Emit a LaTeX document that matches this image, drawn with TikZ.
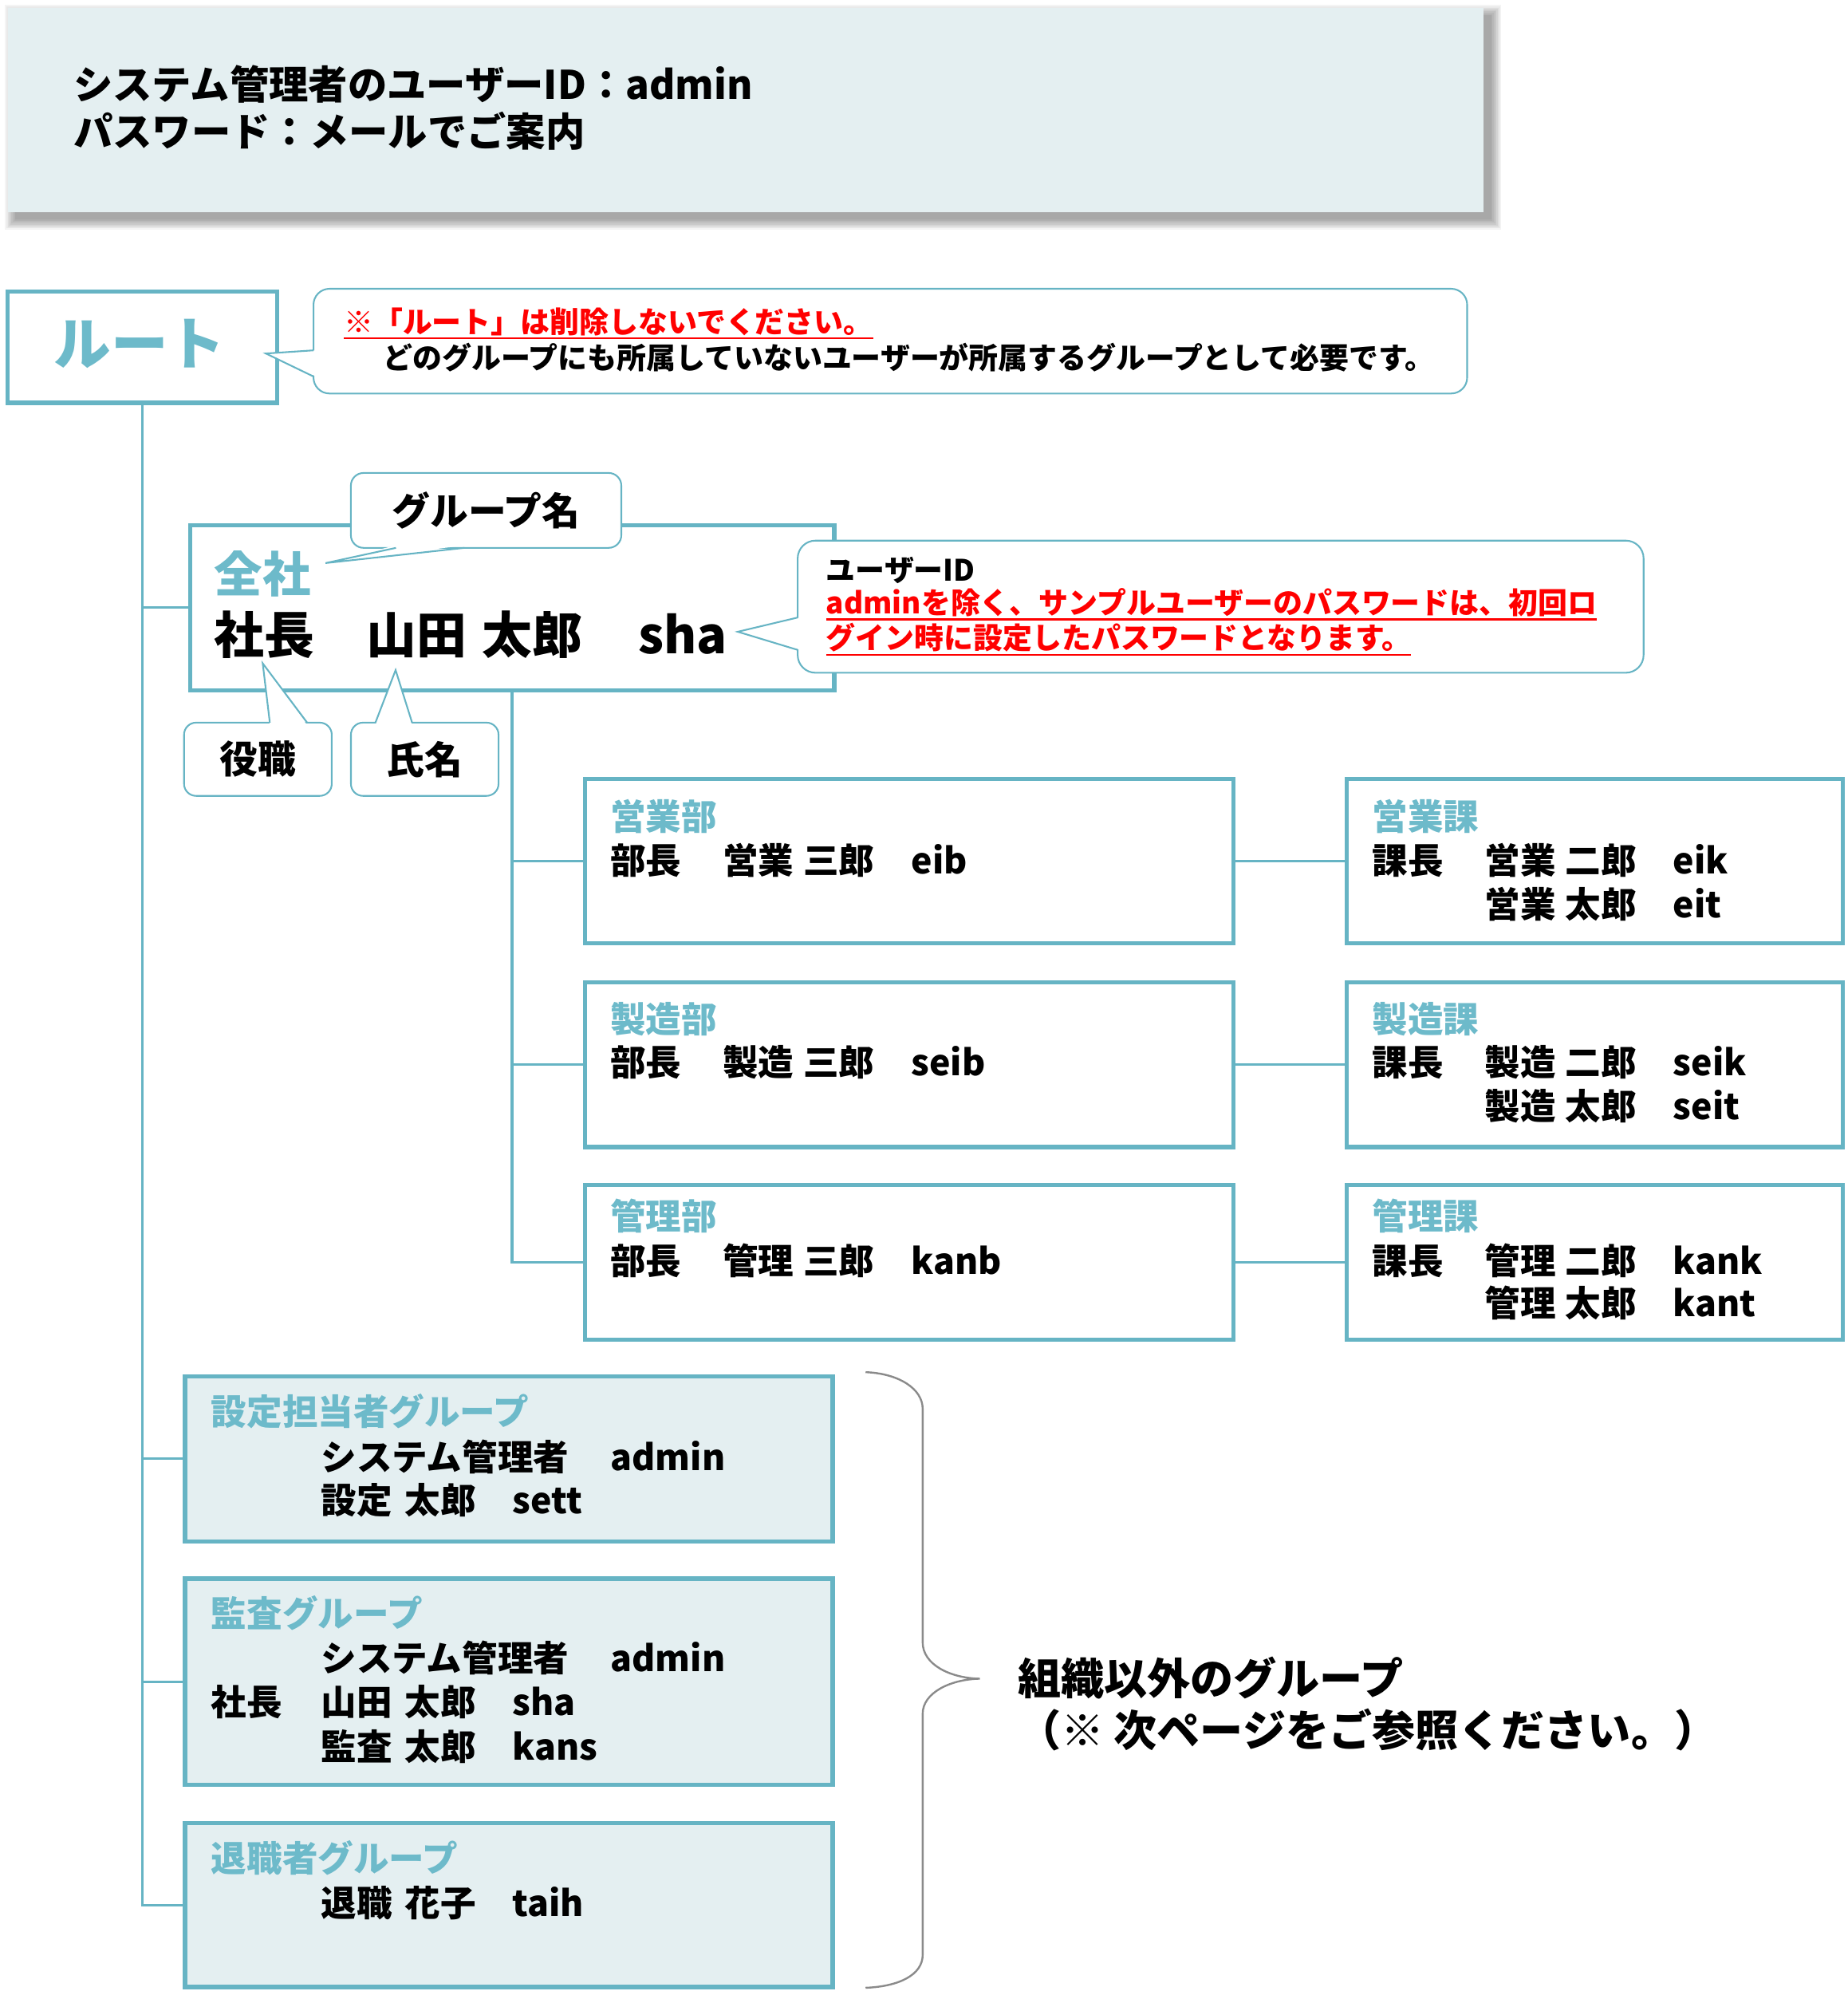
\documentclass[tikz,border=0pt]{standalone}
\usepackage{fontspec}
\setmainfont{Noto Sans CJK JP}
\definecolor{teal1}{HTML}{66B4C4}
\definecolor{tealtxt}{HTML}{6DBACA}
\definecolor{paleblue}{HTML}{E4EFF1}
\definecolor{bracegray}{HTML}{8A8A8A}
\definecolor{alert}{HTML}{FF0000}
\tikzset{
  orgbox/.style={draw=teal1, line width=3.35pt, fill=white, inner sep=0pt, outer sep=0pt},
  grpbox/.style={orgbox, fill=paleblue},
  callbox/.style={draw=teal1, line width=1.3pt, fill=white, rounded corners=#1, inner sep=0pt, outer sep=0pt},
  callbox/.default=10pt,
  conn/.style={draw=teal1, line width=2pt},
  ptrline/.style={draw=teal1, line width=1.3pt, line join=miter},
  fs/.style={font=\bfseries\fontsize{#1}{#1}\selectfont},
  tx/.style={inner sep=0pt, outer sep=0pt, anchor=base west, fs=28},
  ttl/.style={tx, text=tealtxt},
  uline/.style={draw=alert, line width=1.5pt},
}
\begin{document}
\begin{tikzpicture}[x=1pt,y=-1pt]
\useasboundingbox (0,0) rectangle (1456,1571.7);
\fill[white] (0,0) rectangle (1456,1571.7);

% header with soft shadow
\foreach \e in {0,1,...,8}{
  \fill[black,opacity=0.045] (12-\e,12-\e) rectangle (1175+\e,173+\e);
}
\node[fill=paleblue, inner sep=0pt, outer sep=0pt, minimum width=1163pt, minimum height=161pt] (header) at (587.5,86.5) {};
\node[tx, fs=31] (h1) at (58,78) {システム管理者のユーザーID：admin};
\node[tx, fs=31] (h2) at (58,115) {パスワード：メールでご案内};

% root
\node[orgbox, minimum width=212.4pt, minimum height=87.6pt] (root) at (112.1,273.5) {};
\node[inner sep=0pt, fs=45, text=tealtxt] (roottxt) at (110,271) {ルート};

% organisation boxes
\node[orgbox, minimum width=507.6pt, minimum height=130.1pt] (zensha) at (403.5,478.75) {};
\node[orgbox, minimum width=510.9pt, minimum height=129.6pt] (eigyobu) at (716.35,678.5) {};
\node[orgbox, minimum width=510.9pt, minimum height=130pt] (seizobu) at (716.35,838.7) {};
\node[orgbox, minimum width=510.9pt, minimum height=121.9pt] (kanribu) at (716.35,994.35) {};
\node[orgbox, minimum width=390.6pt, minimum height=129.6pt] (eigyoka) at (1256.5,678.5) {};
\node[orgbox, minimum width=390.6pt, minimum height=130pt] (seizoka) at (1256.5,838.7) {};
\node[orgbox, minimum width=390.6pt, minimum height=121.9pt] (kanrika) at (1256.5,994.35) {};
\node[grpbox, minimum width=510.4pt, minimum height=130pt] (settei) at (400.9,1149.3) {};
\node[grpbox, minimum width=510.4pt, minimum height=162.6pt] (kansa) at (400.9,1325) {};
\node[grpbox, minimum width=510.4pt, minimum height=129.1pt] (taishoku) at (400.9,1500.75) {};

% connectors
\draw[conn] (root.south) |- (zensha.west);
\draw[conn] (root.south) |- (settei.west);
\draw[conn] (root.south) |- (kansa.west);
\draw[conn] (root.south) |- (taishoku.west);
\draw[conn] (zensha.south) |- (eigyobu.west);
\draw[conn] (zensha.south) |- (seizobu.west);
\draw[conn] (zensha.south) |- (kanribu.west);
\draw[conn] (eigyobu.east) -- (eigyoka.west);
\draw[conn] (seizobu.east) -- (seizoka.west);
\draw[conn] (kanribu.east) -- (kanrika.west);

% callouts
\node[callbox=12.6pt, minimum width=909pt, minimum height=82.5pt] (note) at (701.5,268.75) {};
\fill[white] (249,276) -- (209.5,278.5) -- (249,296.6) -- cycle;
\draw[ptrline] (247,276) -- (209.5,278.5) -- (247,296.6);

\node[callbox=10pt, minimum width=213.1pt, minimum height=59pt, fs=30] (cgname) at (383,402.1) {グループ名};
\fill[white] (312,429.6) -- (256.5,443.6) -- (366,429.6) -- cycle;
\draw[ptrline] (312,431.6) -- (256.5,443.6) -- (366,431.6);

\node[callbox=9.5pt, minimum width=116.4pt, minimum height=57.7pt, fs=30] (cpos) at (203.2,598.15) {役職};
\fill[white] (212.6,571.3) -- (207,522.6) -- (242,571.3) -- cycle;
\draw[ptrline] (212.6,569.3) -- (207,522.6) -- (242,569.3);

\node[callbox=9.5pt, minimum width=116.3pt, minimum height=57.7pt, fs=30] (cname) at (334.65,598.15) {氏名};
\fill[white] (295.8,571.3) -- (311.7,527.9) -- (324.7,571.3) -- cycle;
\draw[ptrline] (295.8,569.3) -- (311.7,527.9) -- (324.7,569.3);

\node[callbox=14pt, minimum width=666.5pt, minimum height=104.1pt] (cuid) at (961.75,477.95) {};
\fill[white] (630.5,486.5) -- (581.3,497.7) -- (630.5,512) -- cycle;
\draw[ptrline] (628.5,486.5) -- (581.3,497.7) -- (628.5,512);

% note texts
\node[tx, fs=23.2, text=alert] (n1a) at (271,262.5) {※「ルート」は削除しないでください。};
\draw[uline] ([yshift=-4pt]n1a.base west) -- ([yshift=-4pt]n1a.base east);
\node[tx, fs=23.2] (n1b) at (302,290.5) {どのグループにも所属していないユーザーが所属するグループとして必要です。};

\node[tx, fs=23.2] (u0) at (651,457.5) {ユーザーID};
\node[tx, fs=23.2, text=alert] (u1) at (651,483.5) {adminを除く、サンプルユーザーのパスワードは、初回ロ};
\draw[uline] ([yshift=-4.5pt]u1.base west) -- ([yshift=-4.5pt]u1.base east);
\node[tx, fs=23.2, text=alert] (u2) at (651,511.5) {グイン時に設定したパスワードとなります。};
\draw[uline] ([yshift=-4.5pt]u2.base west) -- ([yshift=-4.5pt]u2.base east);

% zensha texts
\node[ttl, fs=38] (zt) at (169,466.5) {全社};
\node[tx, fs=39.5] (zl) at (169,515) {社長\hspace{41pt}山田\hspace{12pt}太郎\hspace{44pt}sha};

% department texts
\node[ttl] (t1) at (481,653.6) {営業部};
\node[tx] (t1a) at (481,688.2) {部長\hspace{32.5pt}営業\hspace{7.5pt}三郎\hspace{29pt}eib};
\node[ttl] (t2) at (1081.3,653.6) {営業課};
\node[tx] (t2a) at (1081.3,688.2) {課長\hspace{32.5pt}営業\hspace{7.5pt}二郎\hspace{29pt}eik};
\node[tx] (t2b) at (1169.8,722.9) {営業\hspace{7.5pt}太郎\hspace{29pt}eit};

\node[ttl] (t3) at (481,813.6) {製造部};
\node[tx] (t3a) at (481,847.5) {部長\hspace{32.5pt}製造\hspace{7.5pt}三郎\hspace{29pt}seib};
\node[ttl] (t4) at (1081.3,813.6) {製造課};
\node[tx] (t4a) at (1081.3,847.5) {課長\hspace{32.5pt}製造\hspace{7.5pt}二郎\hspace{29pt}seik};
\node[tx] (t4b) at (1169.8,882.2) {製造\hspace{7.5pt}太郎\hspace{29pt}seit};

\node[ttl] (t5) at (481,968.4) {管理部};
\node[tx] (t5a) at (481,1003.9) {部長\hspace{32.5pt}管理\hspace{7.5pt}三郎\hspace{29pt}kanb};
\node[ttl] (t6) at (1081.3,968.4) {管理課};
\node[tx] (t6a) at (1081.3,1003.9) {課長\hspace{32.5pt}管理\hspace{7.5pt}二郎\hspace{29pt}kank};
\node[tx] (t6b) at (1169.8,1037.4) {管理\hspace{7.5pt}太郎\hspace{29pt}kant};

% other groups
\node[ttl] (g1) at (166.5,1122.6) {設定担当者グループ};
\node[tx] (g1a) at (253,1158.6) {システム管理者\hspace{33pt}admin};
\node[tx] (g1b) at (253,1192.6) {設定\hspace{10pt}太郎\hspace{29pt}sett};

\node[ttl] (g2) at (166.5,1281.6) {監査グループ};
\node[tx] (g2a) at (253,1316.6) {システム管理者\hspace{33pt}admin};
\node[tx] (g2b) at (166.5,1351.6) {社長\hspace{30.5pt}山田\hspace{10pt}太郎\hspace{29pt}sha};
\node[tx] (g2c) at (253,1386.6) {監査\hspace{10pt}太郎\hspace{29pt}kans};

\node[ttl] (g3) at (166.5,1474.6) {退職者グループ};
\node[tx] (g3a) at (253,1509.6) {退職\hspace{10pt}花子\hspace{29pt}taih};

% brace
\draw[bracegray, line width=1.5pt] (682,1081) .. controls (708,1082) and (727,1094) .. (727,1110)
  -- (727,1294) .. controls (727,1311) and (748,1322) .. (772,1322.5)
  .. controls (748,1323) and (727,1334) .. (727,1350)
  -- (727,1540) .. controls (727,1556) and (708,1565) .. (682,1566);
\node[tx, fs=34] (b1) at (802,1335) {組織以外のグループ};
\node[tx, fs=34] (b2) at (802,1376) {（※ 次ページをご参照ください。）};
\end{tikzpicture}
\end{document}
